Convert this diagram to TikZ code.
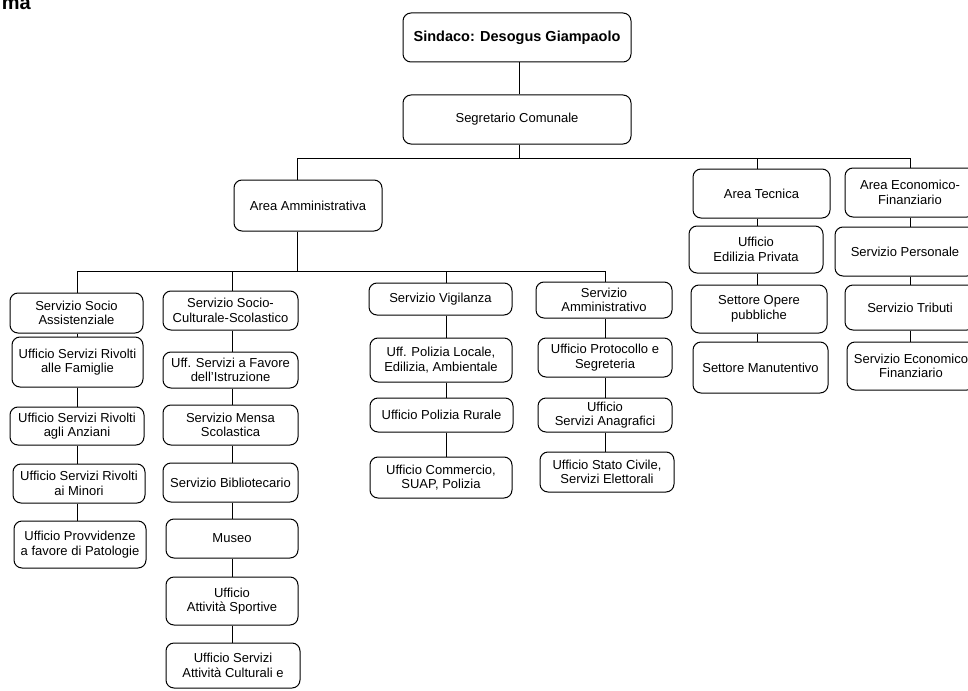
\documentclass[tikz,border=0pt]{standalone}
\usepackage{fontspec}
\setmainfont{Liberation Sans}
\begin{document}
\begin{tikzpicture}[x=1pt,y=-1pt,
  box/.style={draw, rounded corners=8pt, line width=1pt, align=center, inner sep=1pt,
              font=\fontsize{13}{14.5}\selectfont},
  sz/.style 2 args={minimum width=#1, minimum height=#2},
  link/.style={line width=1pt}]
\useasboundingbox (0,0) rectangle (968,690);
\node[anchor=base east, inner sep=0pt, font=\fontsize{20}{24}\selectfont\bfseries] (title) at (31,10) {ma};

% top
\node[box, sz={228}{49}, font=\fontsize{14.5}{16}\selectfont\bfseries] (sind) at (517,37.5) {Sindaco: Desogus Giampaolo};
\node[box, sz={228}{49}] (seg) at (517,119.5) {Segretario Comunale};

% areas
\node[box, sz={148}{51}] (aa) at (308,205.5) {Area Amministrativa};
\node[box, sz={137}{49}] (at) at (761.5,193.5) {Area Tecnica};
\node[box, sz={130}{49}] (aef) at (910,192.5) {Area Economico-\\Finanziario};

% column 1
\node[box, sz={133}{40}] (ssa) at (76.5,313) {Servizio Socio\\Assistenziale};
\node[box, sz={131}{50}] (usf) at (77.5,362) {Ufficio Servizi Rivolti\\alle Famiglie};
\node[box, sz={134}{38}] (usa) at (77,426) {Ufficio Servizi Rivolti\\agli Anziani};
\node[box, sz={132}{39}] (usm) at (79,483.5) {Ufficio Servizi Rivolti\\ai Minori};
\node[box, sz={132}{47}] (upp) at (80,544.5) {Ufficio Provvidenze\\a favore di Patologie};

% column 2
\node[box, sz={135}{39}] (sscs) at (230.5,310.5) {Servizio Socio-\\Culturale-Scolastico};
\node[box, sz={135}{36}] (usfi) at (230.5,370) {Uff. Servizi a Favore\\dell'Istruzione};
\node[box, sz={135}{40}] (sms) at (230.5,425) {Servizio Mensa\\Scolastica};
\node[box, sz={135}{39}] (sb) at (230.5,482.5) {Servizio Bibliotecario};
\node[box, sz={132}{39}] (mus) at (232,538.5) {Museo};
\node[box, sz={132}{48}] (uas) at (232,601) {Ufficio\\Attività Sportive};
\node[box, sz={134}{45}] (usac) at (233,665.5) {Ufficio Servizi\\Attività Culturali e};

% column 3
\node[box, sz={143}{32}] (sv) at (440.5,299) {Servizio Vigilanza};
\node[box, sz={142}{44}] (upl) at (441,360) {Uff. Polizia Locale,\\Edilizia, Ambientale};
\node[box, sz={143}{34}] (upr) at (441.5,415) {Ufficio Polizia Rurale};
\node[box, sz={142}{41}] (ucs) at (441,477.5) {Ufficio Commercio,\\SUAP, Polizia};

% column 4
\node[box, sz={136}{36}] (sam) at (604,300) {Servizio\\Amministrativo};
\node[box, sz={134}{39}] (ups) at (605,357.5) {Ufficio Protocollo e\\Segreteria};
\node[box, sz={134}{34}] (usan) at (605,415) {Ufficio\\Servizi Anagrafici};
\node[box, sz={134}{40}] (uscs) at (607,472) {Ufficio Stato Civile,\\Servizi Elettorali};

% area tecnica column
\node[box, sz={134}{47}] (uep) at (756,249.5) {Ufficio\\Edilizia Privata};
\node[box, sz={136}{48}] (sop) at (759,309) {Settore Opere\\pubbliche};
\node[box, sz={135}{51}] (smt) at (760.5,367.5) {Settore Manutentivo};

% area economico column
\node[box, sz={140}{49}] (sp) at (905,251.5) {Servizio Personale};
\node[box, sz={130}{45}] (st) at (910,307.5) {Servizio Tributi};
\node[box, sz={128}{48}] (sef) at (911,366) {Servizio Economico\\Finanziario};

% connector guides
\coordinate (xtop) at (519,0);
\coordinate (xaa) at (297,0);
\coordinate (xat) at (757,0);
\coordinate (xaef) at (910,0);
\coordinate (xc1) at (77,0);
\coordinate (xc2) at (232,0);
\coordinate (xc3) at (446,0);
\coordinate (xc4) at (605,0);
\coordinate (bar1) at (0,158);
\coordinate (bar2) at (0,271);

\draw[link] (sind.south -| xtop) -- (seg.north -| xtop);
\draw[link] (seg.south -| xtop) -- (xtop |- bar1);
\draw[link] (xaa |- bar1) -- (xaef |- bar1);
\draw[link] (xaa |- bar1) -- (aa.north -| xaa);
\draw[link] (xat |- bar1) -- (at.north -| xat);
\draw[link] (xaef |- bar1) -- (aef.north -| xaef);
\draw[link] (aa.south -| xaa) -- (xaa |- bar2);
\draw[link] (xc1 |- bar2) -- (xc4 |- bar2);
\draw[link] (xc1 |- bar2) -- (ssa.north -| xc1);
\draw[link] (xc2 |- bar2) -- (sscs.north -| xc2);
\draw[link] (xc3 |- bar2) -- (sv.north -| xc3);
\draw[link] (xc4 |- bar2) -- (sam.north -| xc4);

\foreach \a/\b in {ssa/usf, usf/usa, usa/usm, usm/upp}
  \draw[link] (\a.south -| xc1) -- (\b.north -| xc1);
\foreach \a/\b in {sscs/usfi, usfi/sms, sms/sb, sb/mus, mus/uas, uas/usac}
  \draw[link] (\a.south -| xc2) -- (\b.north -| xc2);
\foreach \a/\b in {sv/upl, upl/upr, upr/ucs}
  \draw[link] (\a.south -| xc3) -- (\b.north -| xc3);
\foreach \a/\b in {sam/ups, ups/usan, usan/uscs}
  \draw[link] (\a.south -| xc4) -- (\b.north -| xc4);
\foreach \a/\b in {at/uep, uep/sop, sop/smt}
  \draw[link] (\a.south -| xat) -- (\b.north -| xat);
\foreach \a/\b in {aef/sp, sp/st, st/sef}
  \draw[link] (\a.south -| xaef) -- (\b.north -| xaef);
\end{tikzpicture}
\end{document}
